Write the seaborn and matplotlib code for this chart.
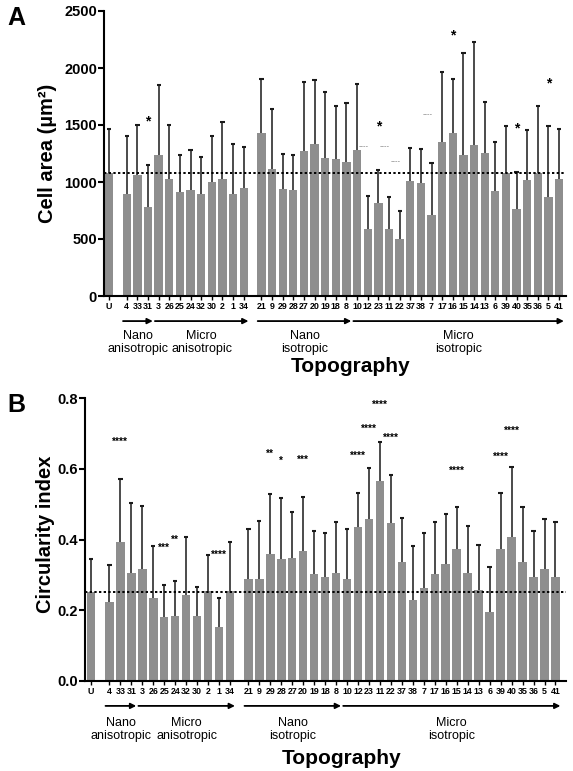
import numpy as np
import pandas as pd
import matplotlib
matplotlib.use('Agg')
import matplotlib.pyplot as plt
import seaborn as sns

# categories in plotting order, block index (gaps between blocks)
cats = ['U', '4', '33', '31', '3', '26', '25', '24', '32', '30', '2', '1', '34',
        '21', '9', '29', '28', '27', '20', '19', '18', '8',
        '10', '12', '23', '11', '22', '37', '38', '7', '17', '16', '15', '14', '13',
        '6', '39', '40', '35', '36', '5', '41']
blocks = [0] + [1] * 12 + [2] * 29

# panel A: cell area (mean, top of error bar)
area_mean = [1078, 891, 1060, 780, 1233, 1025, 914, 929, 897, 999, 1025, 894, 943,
             1434, 1113, 938, 929, 1271, 1332, 1209, 1198, 1174,
             1285, 584, 815, 587, 502, 1005, 987, 710, 1355, 1428, 1236, 1323, 1256,
             920, 1075, 762, 1014, 1078, 865, 1022]
area_err = [1469, 1402, 1496, 1145, 1852, 1504, 1236, 1282, 1218, 1402, 1528, 1332, 1306,
            1905, 1636, 1244, 1241, 1875, 1899, 1791, 1665, 1694,
            1861, 873, 1101, 868, 748, 1294, 1291, 1163, 1963, 1907, 2132, 2232, 1703,
            1347, 1487, 1092, 1458, 1665, 1487, 1466]
area_sig = [('31', '*', 1566), ('23', '*', 1519), ('16', '*', 2316),
            ('40', '*', 1504), ('5', '*', 1893)]
area_faint = [('10', 1307), ('23', 1307), ('11', 1175), ('38', 1588)]

# panel B: circularity index
circ_mean = [0.253, 0.222, 0.394, 0.304, 0.316, 0.235, 0.180, 0.184, 0.244, 0.184, 0.255, 0.152, 0.255,
             0.288, 0.288, 0.359, 0.344, 0.349, 0.367, 0.302, 0.293, 0.306,
             0.288, 0.434, 0.458, 0.565, 0.448, 0.336, 0.229, 0.263, 0.303, 0.332, 0.372, 0.306, 0.256,
             0.195, 0.372, 0.407, 0.335, 0.295, 0.316, 0.293]
circ_err = [0.345, 0.328, 0.572, 0.504, 0.495, 0.383, 0.272, 0.282, 0.407, 0.265, 0.356, 0.234, 0.393,
            0.429, 0.453, 0.529, 0.517, 0.478, 0.519, 0.423, 0.419, 0.449,
            0.429, 0.531, 0.603, 0.675, 0.582, 0.460, 0.383, 0.418, 0.449, 0.472, 0.491, 0.438, 0.385,
            0.322, 0.531, 0.606, 0.493, 0.425, 0.457, 0.450]
circ_sig = [('33', '****', 0.682), ('25', '***', 0.383), ('24', '**', 0.407), ('1', '****', 0.363),
            ('29', '**', 0.649), ('28', '*', 0.630), ('20', '***', 0.633),
            ('12', '****', 0.644), ('23', '****', 0.719), ('11', '****', 0.787), ('22', '****', 0.693),
            ('15', '****', 0.600), ('39', '****', 0.641), ('40', '****', 0.713)]

groups = [('Nano\nanisotropic', '4', '31'), ('Micro\nanisotropic', '3', '34'),
          ('Nano\nisotropic', '21', '8'), ('Micro\nisotropic', '10', '41')]

gap = 0.67
pos = np.arange(len(cats)) + gap * np.array(blocks)
xpos = dict(zip(cats, pos))

sns.set_style('ticks')
plt.rcParams['font.family'] = ['Liberation Sans', 'DejaVu Sans']
plt.rcParams.update({'text.color': 'black', 'axes.labelcolor': 'black',
                     'xtick.color': 'black', 'ytick.color': 'black',
                     'axes.edgecolor': 'black'})

bar_color = '#8e8e8e'
fig = plt.figure(figsize=(5.73, 7.71), dpi=100)
axA = fig.add_axes([104 / 573, 1 - 296 / 771, 462 / 573, 285 / 771])
axB = fig.add_axes([85 / 573, 1 - 681 / 771, 481 / 573, 283 / 771])


def draw_panel(ax, mean, err, ylabel, ylim, yticks, fmt, xlim, lab_x, lab_y, grp_y, topo_y):
    df = pd.DataFrame({'pos': pos, 'val': mean})
    sns.barplot(data=df, x='pos', y='val', native_scale=True, width=0.78,
                color=bar_color, saturation=1, linewidth=0, ax=ax)
    err = np.array(err)
    mean = np.array(mean)
    ax.vlines(pos, mean, err, color='#1a1a1a', lw=1.1, zorder=3)
    ax.hlines(err, pos - 0.2, pos + 0.2, color='#1a1a1a', lw=1.5, zorder=3)
    ax.axhline(mean[0], color='black', ls=(0, (1.2, 1.2)), lw=1.4, zorder=4)
    ax.set_xlim(*xlim)
    ax.set_ylim(*ylim)
    ax.set_yticks(yticks)
    ax.set_yticklabels([fmt.format(v) for v in yticks], fontsize=10.5, fontweight='bold')
    ax.set_xticks(pos)
    ax.set_xticklabels(cats, fontsize=6.4, fontweight='bold')
    ax.tick_params(axis='y', length=4, width=1.5, pad=1)
    ax.tick_params(axis='x', length=3, width=1, pad=1.5)
    for s in ['left', 'bottom']:
        ax.spines[s].set_linewidth(1.5)
    sns.despine(ax=ax)
    ax.set_xlabel('')
    ax.set_ylabel(ylabel, fontsize=14.5, fontweight='bold')
    ax.yaxis.set_label_coords(lab_x, lab_y)
    tr = ax.get_xaxis_transform()
    for name, a, b in groups:
        x0, x1 = xpos[a] - 0.35, xpos[b] + 0.45
        ax.annotate('', xy=(x1, -0.088), xytext=(x0, -0.088), xycoords=tr, textcoords=tr,
                    arrowprops=dict(arrowstyle='-|>', color='black', lw=1.3,
                                    mutation_scale=8, shrinkA=0, shrinkB=0))
        ax.text((x0 + x1) / 2, grp_y, name, transform=tr, ha='center', va='top',
                fontsize=9, linespacing=1.1)
    ax.text(0.5 * (xlim[0] + xlim[1]) + 1.5, topo_y, 'Topography', transform=tr,
            ha='center', va='top', fontsize=15, fontweight='bold')


draw_panel(axA, area_mean, area_err, 'Cell area (µm²)', (0, 2500),
           [0, 500, 1000, 1500, 2000, 2500], '{:.0f}', (-0.47, 42.99), -0.102, 0.5,
           -0.12, -0.215)
draw_panel(axB, circ_mean, circ_err, 'Circularity index', (0, 0.8),
           [0.0, 0.2, 0.4, 0.6, 0.8], '{:.1f}', (-0.55, 43.3), -0.062, 0.52,
           -0.128, -0.24)

for c, s, y in area_sig:
    axA.annotate(s, (xpos[c], y), xytext=(0, -5.5), textcoords='offset points',
                 ha='center', va='baseline', fontsize=10, fontweight='bold')
for c, y in area_faint:
    axA.text(xpos[c] + 0.6, y, '----', ha='center', va='center', fontsize=5.5,
             color='#7a7a7a')
for c, s, y in circ_sig:
    axB.annotate(s, (xpos[c], y), xytext=(0, -3.9), textcoords='offset points',
                 ha='center', va='baseline', fontsize=7.2, fontweight='bold')

fig.text(7 / 573, 1 - 6 / 771, 'A', fontsize=18, fontweight='bold', va='top')
fig.text(7 / 573, 1 - 393 / 771, 'B', fontsize=18, fontweight='bold', va='top')

fig.savefig('out.png', dpi=100)
